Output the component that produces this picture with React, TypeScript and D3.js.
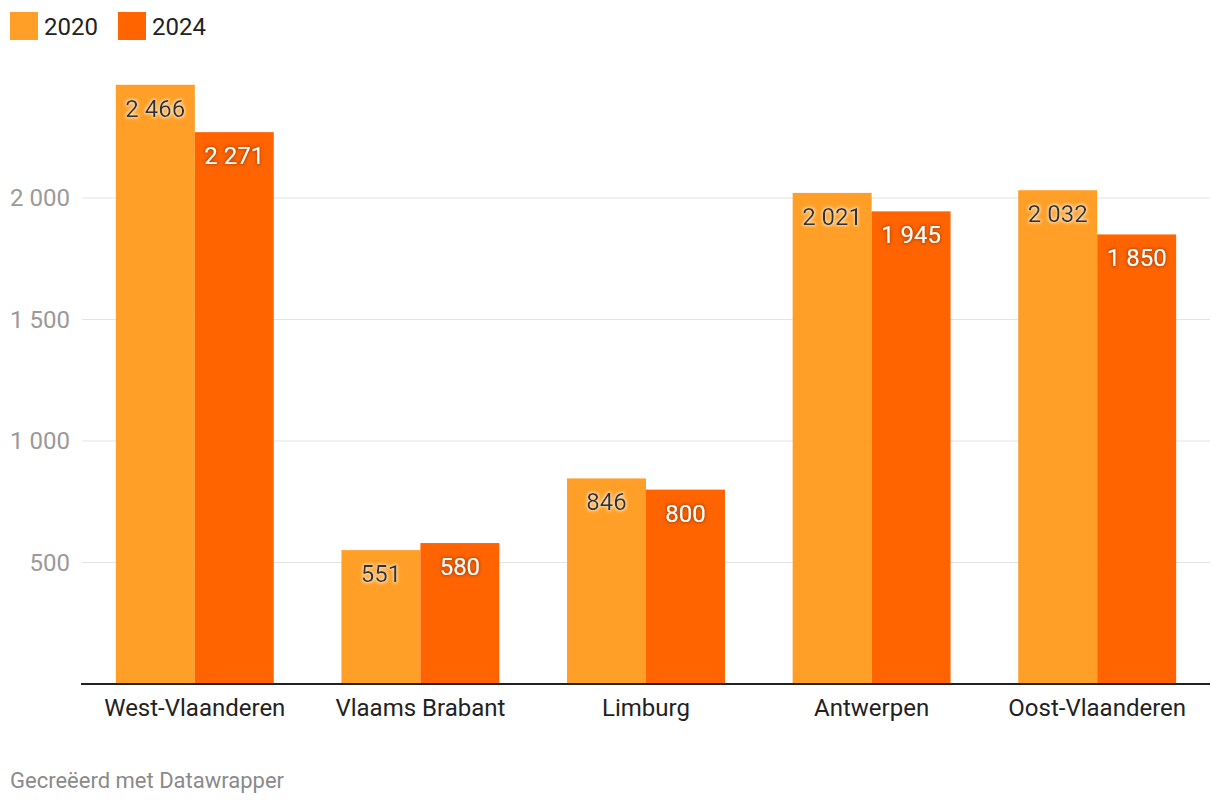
import React from "react";
import * as d3 from "d3";

const categories = ["West-Vlaanderen", "Vlaams Brabant", "Limburg", "Antwerpen", "Oost-Vlaanderen"];
const seriesNames = ["2020", "2024"];
const values2020 = [2466, 551, 846, 2021, 2032];
const values2024 = [2271, 580, 800, 1945, 1850];
const yTicks = [500, 1000, 1500, 2000];
const colors = ["#FF9F27", "#FF6400"];
const footer = "Gecreëerd met Datawrapper";

const W = 1220;
const H = 806;
const FONT = "Roboto, 'Noto Sans', sans-serif";

const fmt = (v: number) => d3.format(",")(v).replace(/,/g, " ");

export default function App() {
  const x0 = d3.scaleBand<string>().domain(categories).range([82, 1210]).paddingInner(0.3).paddingOuter(0.15);
  const x1 = d3.scaleBand<string>().domain(seriesNames).range([0, x0.bandwidth()]);
  const y = d3.scaleLinear().domain([0, 2000]).range([684, 198]);
  const series = [values2020, values2024];

  return (
    <svg width={W} height={H} style={{ position: "absolute", left: 0, top: 0, display: "block" }}>
      <defs>
        <filter id="haloLight" x="-20%" y="-30%" width="140%" height="160%">
          <feMorphology in="SourceAlpha" operator="dilate" radius="1" result="d" />
          <feGaussianBlur in="d" stdDeviation="1.5" result="b" />
          <feFlood floodColor="#ffffff" floodOpacity="0.6" />
          <feComposite in2="b" operator="in" result="h" />
          <feMerge>
            <feMergeNode in="h" />
            <feMergeNode in="SourceGraphic" />
          </feMerge>
        </filter>
        <filter id="haloDark" x="-20%" y="-30%" width="140%" height="160%">
          <feMorphology in="SourceAlpha" operator="dilate" radius="1" result="d" />
          <feGaussianBlur in="d" stdDeviation="1.5" result="b" />
          <feFlood floodColor="#8a3300" floodOpacity="0.5" />
          <feComposite in2="b" operator="in" result="h" />
          <feMerge>
            <feMergeNode in="h" />
            <feMergeNode in="SourceGraphic" />
          </feMerge>
        </filter>
      </defs>
      <rect width={W} height={H} fill="#fff" />
      {/* legend */}
      {seriesNames.map((s, i) => (
        <g key={s} transform={`translate(${10 + i * 108},12)`}>
          <rect width={28} height={28} fill={colors[i]} />
          <text x={34} y={22.5} fontFamily={FONT} fontSize={24} fill="#222">{s}</text>
        </g>
      ))}
      {/* gridlines */}
      {yTicks.map((t) => (
        <g key={t}>
          <line x1={82} x2={1210} y1={y(t)} y2={y(t)} stroke="#e3e3e3" strokeWidth={1} />
          <text x={70} y={y(t)} dy="0.35em" textAnchor="end" fontFamily={FONT} fontSize={24} fill="#9a9a9a">{fmt(t)}</text>
        </g>
      ))}
      {/* bars */}
      {categories.map((c, ci) => (
        <g key={c} transform={`translate(${x0(c)},0)`}>
          {seriesNames.map((s, si) => {
            const v = series[si][ci];
            return (
              <rect key={s} x={x1(s)} y={y(v)} width={x1.bandwidth()} height={y(0) - y(v)} fill={colors[si]} />
            );
          })}
          {seriesNames.map((s, si) => {
            const v = series[si][ci];
            return (
              <text key={s + "l"} x={(x1(s) as number) + x1.bandwidth() / 2} y={y(v) + 32} textAnchor="middle"
                fontFamily={FONT} fontSize={24} fill={si === 0 ? "#333333" : "#ffffff"}
                filter={si === 0 ? "url(#haloLight)" : "url(#haloDark)"}>{fmt(v)}</text>
            );
          })}
          <text x={x0.bandwidth() / 2} y={716} textAnchor="middle" fontFamily={FONT} fontSize={24} fill="#222">{c}</text>
        </g>
      ))}
      <line x1={81} x2={1210} y1={684} y2={684} stroke="#222" strokeWidth={2} />
      <text x={10} y={788} fontFamily={FONT} fontSize={22} fill="#8a8a8a">{footer}</text>
    </svg>
  );
}
